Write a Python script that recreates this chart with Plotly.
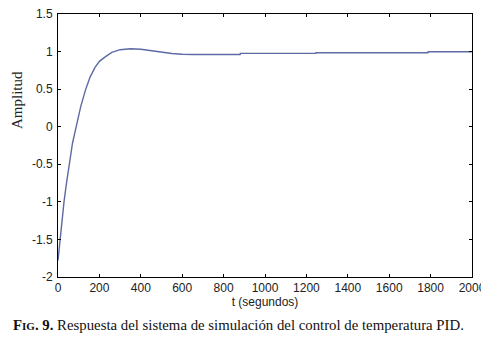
import plotly.graph_objects as go

t_seg = [0, 10, 20, 29, 40, 53, 70, 88, 110, 134, 155, 179, 200, 228, 260, 300, 350, 400,
         450, 500, 550, 600, 650, 880, 881, 1245, 1246, 1787, 1788, 2000]
amplitud = [-1.78, -1.5, -1.22, -1.0, -0.77, -0.5, -0.22, 0.0, 0.27, 0.5, 0.66, 0.79, 0.87,
            0.93, 0.99, 1.025, 1.037, 1.03, 1.01, 0.99, 0.975, 0.965, 0.962, 0.962, 0.976,
            0.976, 0.984, 0.984, 0.997, 0.997]

x_ticks = list(range(0, 2001, 200))
y_ticks = [-2, -1.5, -1, -0.5, 0, 0.5, 1, 1.5]
y_tick_labels = ["-2", "-1.5", "-1", "-0.5", "0", "0.5", "1", "1.5"]

fig = go.Figure()
fig.add_trace(go.Scatter(x=t_seg, y=amplitud, mode="lines",
                         line=dict(color="#5d6aa3", width=1.4), showlegend=False))

tick_font = dict(family="Arial, Liberation Sans", size=12, color="#222")
axis_common = dict(showline=True, linecolor="black", linewidth=1, mirror="ticks",
                   ticks="inside", ticklen=3, tickcolor="black", showgrid=False,
                   zeroline=False, tickfont=tick_font, automargin=False,
                   ticklabeloverflow="allow")

fig.update_xaxes(range=[0, 2000], tickvals=x_ticks, **axis_common,
                 title=dict(text="t (segundos)", font=dict(family="Arial, Liberation Sans", size=12, color="#222"),
                            standoff=1))
fig.update_yaxes(range=[-2, 1.5], tickvals=y_ticks, ticktext=y_tick_labels, ticklabelstandoff=2,
                 **axis_common)

# plot area: x 58..472, y 14..277 in page pixels (page body has an 8px margin)
ph = 263
fig.add_annotation(text="Amplitud", xref="paper", yref="paper",
                   x=(17 - 58) / 414, y=(277 - 100) / ph, showarrow=False, textangle=-90,
                   xanchor="center", yanchor="middle",
                   font=dict(family="Liberation Serif, Times New Roman", size=15, color="#222"))
fig.add_annotation(text="<b>F<span style='font-size:11px'>IG</span>. 9.</b> Respuesta del sistema de simulación del control de temperatura PID.",
                   xref="paper", yref="paper", x=(11 - 58) / 414, y=(277 - 325) / ph,
                   xanchor="left", yanchor="middle", showarrow=False,
                   font=dict(family="Liberation Serif, Times New Roman", size=14.8, color="#111"))

fig.update_layout(width=481, height=333, margin=dict(l=50, r=17, t=6, b=64, autoexpand=False),
                  plot_bgcolor="white", paper_bgcolor="white")

fig.write_html("out.html")
